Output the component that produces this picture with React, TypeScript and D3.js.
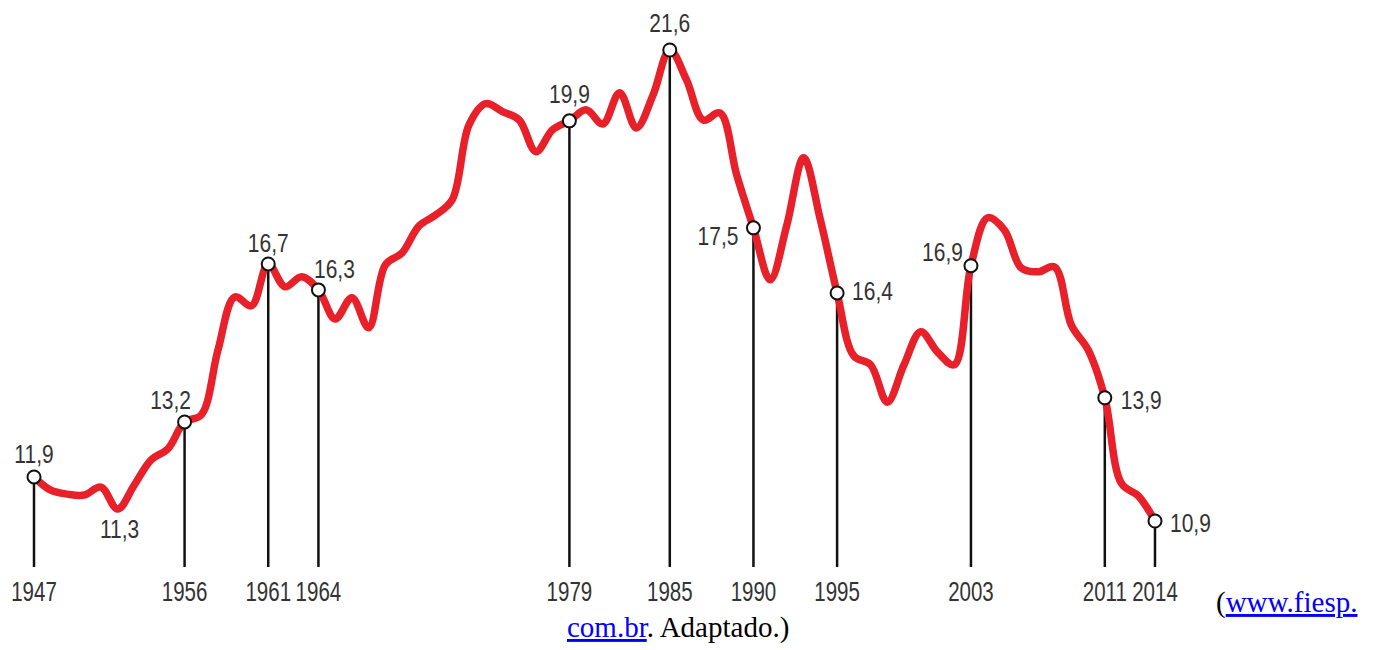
import React, { useRef, useEffect } from "react";
import * as d3 from "d3";

// participação anual (%)
const years: number[] = d3.range(1947, 2015);
const share: number[] = [
  11.9, 11.6, 11.51, 11.49, 11.67, 11.17, 11.72, 12.29, 12.54, 13.15,
  13.31, 14.79, 15.99, 15.79, 16.74, 16.22, 16.45, 16.15, 15.49, 15.97,
  15.29, 16.72, 16.99, 17.6, 17.85, 18.2, 19.9, 20.38, 20.2, 20.01,
  19.29, 19.79, 19.99, 20.24, 19.92, 20.63, 19.83, 20.58, 21.6, 20.92,
  20.01, 20.17, 18.76, 17.56, 16.38, 17.63, 19.15, 17.74, 16.08, 14.65,
  14.45, 13.6, 14.45, 15.2, 14.74, 14.45, 16.7, 17.79, 17.51, 16.65,
  16.56, 16.67, 15.35, 14.79, 13.7, 11.75, 11.47, 10.9,
];

// anos destacados e os rótulos mostrados
const markedYears: number[] = [1947, 1956, 1961, 1964, 1979, 1985, 1990, 1995, 2003, 2011, 2014];
const markedLabels: string[] = ["11,9", "13,2", "16,7", "16,3", "19,9", "21,6", "17,5", "16,4", "16,9", "13,9", "10,9"];
const minYear = 1952;
const minLabel = "11,3";

// posição de cada rótulo em relação ao marcador
const placement: Record<number, { dx: number; dy: number; anchor: string }> = {
  1947: { dx: 0, dy: -14, anchor: "middle" },
  1956: { dx: -14, dy: -13, anchor: "middle" },
  1961: { dx: 0, dy: -12, anchor: "middle" },
  1964: { dx: 16, dy: -12, anchor: "middle" },
  1979: { dx: 0, dy: -18, anchor: "middle" },
  1985: { dx: 0, dy: -18, anchor: "middle" },
  1990: { dx: -15, dy: 17, anchor: "end" },
  1995: { dx: 15, dy: 7, anchor: "start" },
  2003: { dx: -8, dy: -5, anchor: "end" },
  2011: { dx: 16, dy: 11, anchor: "start" },
  2014: { dx: 15, dy: 11, anchor: "start" },
};

const width = 1375;
const height = 650;

const App: React.FC = () => {
  const svgRef = useRef<SVGSVGElement | null>(null);

  useEffect(() => {
    if (!svgRef.current) return;
    const svg = d3.select(svgRef.current);
    svg.selectAll("*").remove();

    const font = '"Liberation Sans Narrow", "Arial Narrow", "Liberation Sans", Arial, sans-serif';
    const baseY = 567;
    const squeeze = 0.84; // a fonte original é estreita

    const x = d3.scaleLinear().domain([1947, 2014]).range([34, 1155]);
    const y = d3.scaleLinear().domain([10.9, 21.6]).range([521, 50]);

    const valueAt = (yr: number) => share[years.indexOf(yr)];

    // hastes verticais
    svg
      .append("g")
      .selectAll("line")
      .data(markedYears)
      .enter()
      .append("line")
      .attr("x1", (d) => x(d))
      .attr("x2", (d) => x(d))
      .attr("y1", (d) => y(valueAt(d)))
      .attr("y2", baseY)
      .attr("stroke", "#111")
      .attr("stroke-width", 2.5);

    // linha vermelha
    const line = d3
      .line<number>()
      .x((_, i) => x(years[i]))
      .y((d) => y(d))
      .curve(d3.curveCatmullRom.alpha(0.5));

    svg
      .append("path")
      .datum(share)
      .attr("fill", "none")
      .attr("stroke", "#e8202a")
      .attr("stroke-width", 7.5)
      .attr("stroke-linejoin", "round")
      .attr("stroke-linecap", "round")
      .attr("d", line);

    // marcadores
    svg
      .append("g")
      .selectAll("circle")
      .data(markedYears)
      .enter()
      .append("circle")
      .attr("cx", (d) => x(d))
      .attr("cy", (d) => y(valueAt(d)))
      .attr("r", 6.5)
      .attr("fill", "white")
      .attr("stroke", "#111")
      .attr("stroke-width", 2);

    // rótulos dos valores
    svg
      .append("g")
      .selectAll("text")
      .data(markedYears)
      .enter()
      .append("text")
      .attr(
        "transform",
        (d) => `translate(${x(d) + placement[d].dx},${y(valueAt(d)) + placement[d].dy}) scale(${squeeze},1)`
      )
      .attr("text-anchor", (d) => placement[d].anchor)
      .attr("font-family", font)
      .attr("font-size", 25)
      .attr("fill", "#333")
      .text((_, i) => markedLabels[i]);

    svg
      .append("text")
      .attr("transform", `translate(${x(minYear) + 2},${y(valueAt(minYear)) + 29}) scale(${squeeze},1)`)
      .attr("text-anchor", "middle")
      .attr("font-family", font)
      .attr("font-size", 25)
      .attr("fill", "#333")
      .text(minLabel);

    // anos no eixo
    svg
      .append("g")
      .selectAll("text")
      .data(markedYears)
      .enter()
      .append("text")
      .attr("transform", (d) => `translate(${x(d)},601) scale(0.76,1)`)
      .attr("text-anchor", "middle")
      .attr("font-family", font)
      .attr("font-size", 27)
      .attr("fill", "#333")
      .text((d) => String(d));

    // fonte
    const serif = '"Liberation Serif", "Times New Roman", serif';
    const src1 = svg
      .append("text")
      .attr("x", 1216)
      .attr("y", 612)
      .attr("font-family", serif)
      .attr("font-size", 29)
      .attr("fill", "#000");
    src1.append("tspan").text("(");
    src1.append("tspan").attr("fill", "#0000ff").attr("text-decoration", "underline").text("www.fiesp.");

    const src2 = svg
      .append("text")
      .attr("x", 567)
      .attr("y", 637)
      .attr("font-family", serif)
      .attr("font-size", 29)
      .attr("fill", "#000");
    src2.append("tspan").attr("fill", "#0000ff").attr("text-decoration", "underline").text("com.br");
    src2.append("tspan").text(". Adaptado.)");
  }, []);

  return (
    <svg
      ref={svgRef}
      width={width}
      height={height}
      style={{ position: "absolute", left: 0, top: 0, background: "white" }}
    ></svg>
  );
};

export default App;
